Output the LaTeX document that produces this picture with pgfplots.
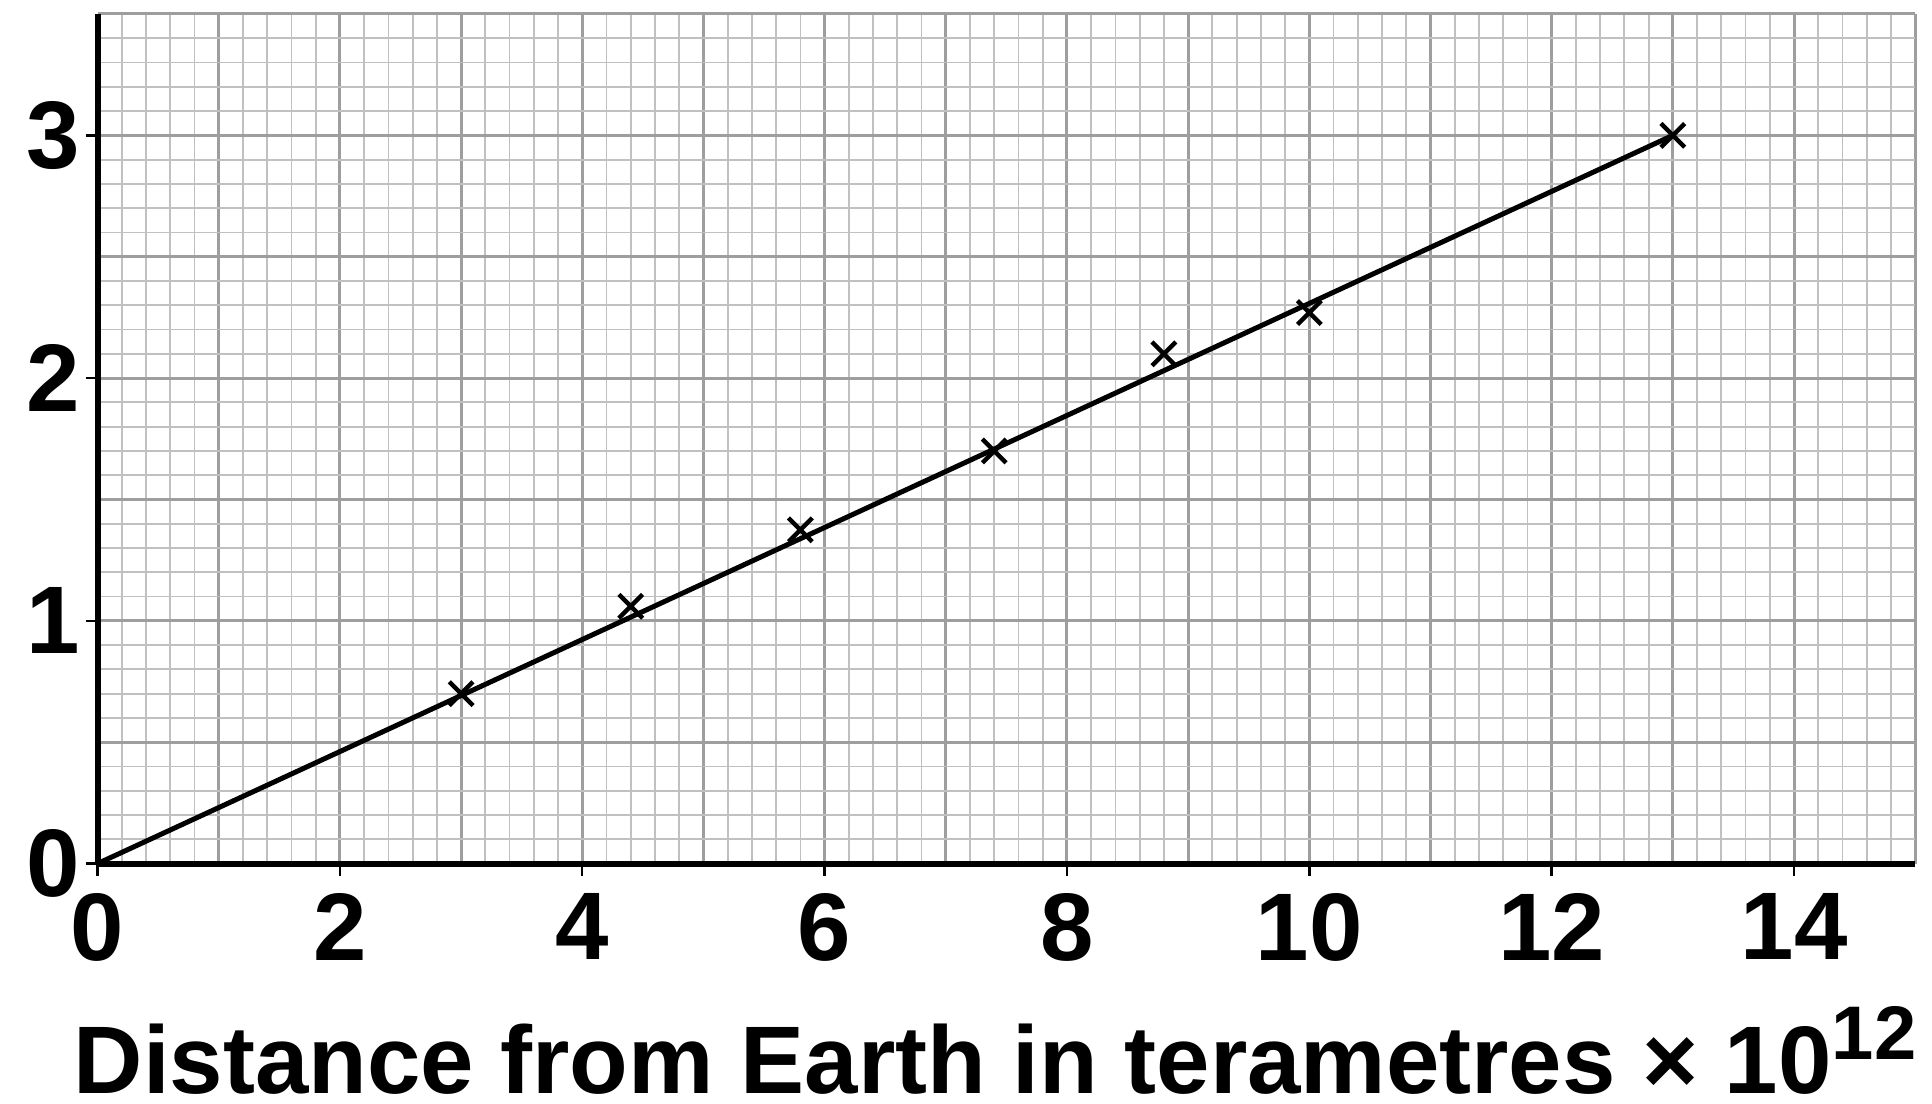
\documentclass[border=0pt]{standalone}
\usepackage{pgfplots}
\pgfplotsset{compat=1.18}
\usepackage{fontspec}
\setmainfont{Liberation Sans}
\definecolor{majorgrid}{RGB}{158,158,158}
\definecolor{minorgrid}{RGB}{192,192,192}
\begin{document}
\begin{tikzpicture}
\pgfplotsset{base/.style={scale only axis, width=454.4pt, height=212.4pt,
  xmin=0, xmax=15, ymin=0, ymax=3.5, at={(0,0)}, anchor=south west}}
% grid layer
\begin{axis}[base,
  xtick={0,1,...,15}, ytick={0,0.5,...,3.5},
  minor x tick num=4, minor y tick num=4,
  grid=both,
  major grid style={majorgrid, line width=0.75pt},
  minor grid style={minorgrid, line width=0.45pt},
  axis line style={draw=none},
  major tick style={draw=none}, minor tick style={draw=none},
  xticklabels={}, yticklabels={}]
\end{axis}
% main layer
\begin{axis}[base,
  axis x line*=bottom, axis y line*=left,
  axis line style={line width=1.5pt, -},
  xtick={0,2,...,14}, ytick={0,1,2,3},
  minor tick num=0,
  tick align=outside, major tick length=3pt,
  major tick style={black, line width=0.6pt},
  /pgf/number format/assume math mode=true,
  ticklabel style={font=\fontsize{24}{24}\selectfont\bfseries},
  xticklabel style={yshift=-1pt},
  yticklabel style={xshift=2.2pt},
  xlabel={Distance from Earth in terametres × 10{\fontsize{19}{19}\selectfont\raisebox{8.5pt}{12}}},
  xlabel style={font=\fontsize{24}{24}\selectfont\bfseries, inner sep=0pt,
    at={(axis description cs:0.5,0)}, anchor=base, yshift=-57.6pt, xshift=-2.8pt}]
\addplot[black, line width=1.25pt] coordinates {(0,0) (13,3)};
\addplot[only marks, mark=x, mark size=4.2pt, mark options={line width=1.1pt, black}]
  coordinates {(3,0.70) (4.4,1.06) (5.8,1.375) (7.4,1.70) (8.8,2.10) (10,2.27) (13,3.0)};
\end{axis}
\pgfresetboundingbox
\path (-24.4pt,-59.9pt) rectangle (458.6pt,215.9pt);
\end{tikzpicture}
\end{document}
